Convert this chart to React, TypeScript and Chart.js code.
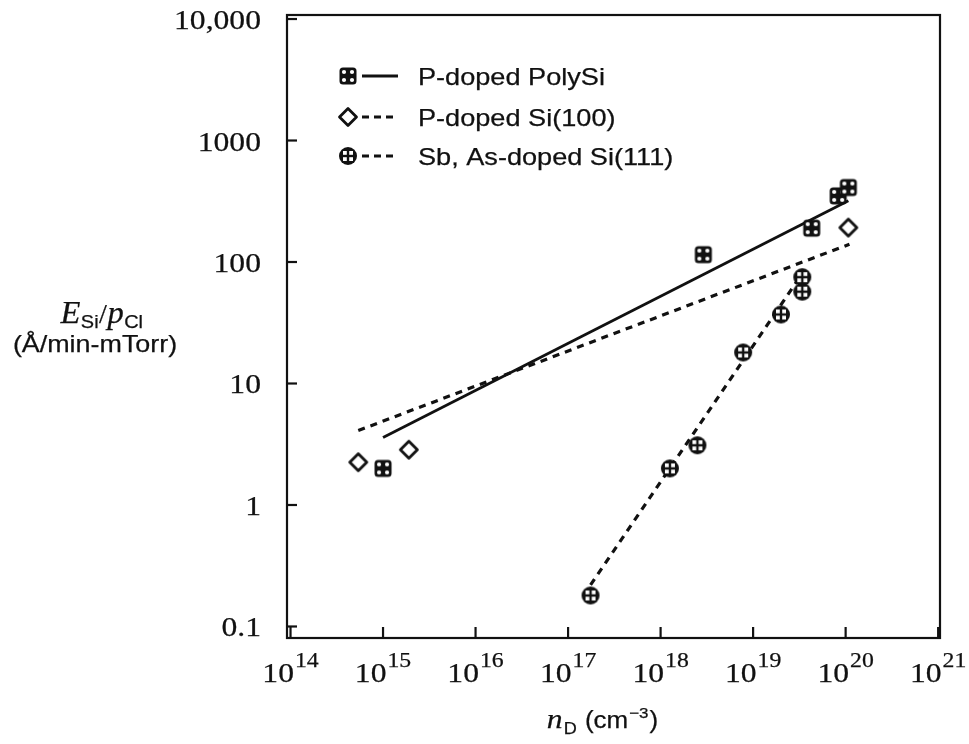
import React, { useEffect, useRef } from "react";
import { Chart, registerables } from "chart.js";

Chart.register(...registerables);

// ---- data ----
const polyX = [1.0e15, 2.9e18, 4.3e19, 8.3e19, 1.07e20];
const polyY = [2.0, 115, 190, 350, 410];
const si100X = [5.4e14, 1.9e15, 1.07e20];
const si100Y = [2.25, 2.85, 192];
const sbX = [1.75e17, 1.26e18, 2.5e18, 7.8e18, 2.0e19, 3.4e19, 3.4e19];
const sbY = [0.18, 2.0, 3.1, 18, 37, 57, 75];

const polyFitX = [1.0e15, 1.07e20];
const polyFitY = [3.6, 320];
const si100FitX = [5.4e14, 1.1e20];
const si100FitY = [4.1, 140];
const sbFitX = [1.75e17, 3.6e19];
const sbFitY = [0.22, 86];

const legendLabels = ["P-doped PolySi", "P-doped Si(100)", "Sb, As-doped Si(111)"];
const yTickValues = [0.1, 1, 10, 100, 1000, 10000];
const yTickLabels = ["0.1", "1", "10", "100", "1000", "10,000"];
const xTickExponents = [14, 15, 16, 17, 18, 19, 20, 21];

const SERIF = "'Liberation Serif', 'DejaVu Serif', serif";
const SANS = "'Liberation Sans', Arial, sans-serif";
const SX = 1.13;

function pts(xs: number[], ys: number[]) {
  return xs.map((x, i) => ({ x, y: ys[i] }));
}

function makePolyMarker() {
  const c = document.createElement("canvas");
  c.width = 20; c.height = 20;
  const g = c.getContext("2d")!;
  g.fillStyle = "#111";
  g.beginPath();
  (g as any).roundRect ? (g as any).roundRect(1.5, 1.5, 17, 17, 3.5) : g.rect(1.5, 1.5, 17, 17);
  g.fill();
  g.fillStyle = "#fff";
  [[-4, -4], [4, -4], [-4, 4], [4, 4]].forEach(([dx, dy]) => {
    g.beginPath();
    g.arc(10 + dx, 10 + dy, 2.1, 0, Math.PI * 2);
    g.fill();
  });
  return c;
}

function makeSbMarker() {
  const c = document.createElement("canvas");
  c.width = 20; c.height = 20;
  const g = c.getContext("2d")!;
  g.fillStyle = "#111";
  g.beginPath();
  g.arc(10, 10, 9, 0, Math.PI * 2);
  g.fill();
  g.fillStyle = "#fff";
  [[-1, -1], [1, -1], [-1, 1], [1, 1]].forEach(([sx, sy]) => {
    const x = sx < 0 ? 10 - 1.2 - 3.8 : 10 + 1.2;
    const y = sy < 0 ? 10 - 1.2 - 3.8 : 10 + 1.2;
    g.fillRect(x, y, 3.8, 3.8);
  });
  return c;
}

function makeDiamondMarker() {
  const c = document.createElement("canvas");
  c.width = 22; c.height = 22;
  const g = c.getContext("2d")!;
  g.strokeStyle = "#111";
  g.fillStyle = "#fff";
  g.lineWidth = 2.8;
  g.lineJoin = "round";
  g.beginPath();
  g.moveTo(11, 2.5);
  g.lineTo(19.5, 11);
  g.lineTo(11, 19.5);
  g.lineTo(2.5, 11);
  g.closePath();
  g.fill();
  g.stroke();
  return c;
}

function txt(ctx: CanvasRenderingContext2D, s: string, x: number, y: number, font: string, align = "left", sx = SX) {
  ctx.save();
  ctx.font = font;
  ctx.textBaseline = "alphabetic";
  const w = ctx.measureText(s).width * sx;
  const x0 = align === "left" ? x : align === "right" ? x - w : x - w / 2;
  ctx.translate(x0, y);
  ctx.scale(sx, 1);
  ctx.fillStyle = "#111";
  ctx.strokeStyle = "#111";
  ctx.lineWidth = 0.25;
  ctx.fillText(s, 0, 0);
  ctx.strokeText(s, 0, 0);
  ctx.restore();
  return w;
}

function measure(ctx: CanvasRenderingContext2D, s: string, font: string, sx = SX) {
  ctx.save();
  ctx.font = font;
  const w = ctx.measureText(s).width * sx;
  ctx.restore();
  return w;
}

export default function App() {
  const ref = useRef<HTMLCanvasElement | null>(null);

  useEffect(() => {
    document.body.style.margin = "0";
    const polyM = makePolyMarker();
    const sbM = makeSbMarker();
    const diaM = makeDiamondMarker();

    const deco = {
      id: "deco",
      afterDraw(chart: any) {
        const ctx: CanvasRenderingContext2D = chart.ctx;
        const a = chart.chartArea;
        const xs = chart.scales.x;
        const ys = chart.scales.y;
        ctx.save();
        // frame
        ctx.strokeStyle = "#111";
        ctx.lineWidth = 2.2;
        ctx.strokeRect(a.left, a.top, a.right - a.left, a.bottom - a.top);
        // y ticks + labels
        yTickValues.forEach((v, i) => {
          const py = ys.getPixelForValue(v);
          ctx.beginPath();
          ctx.moveTo(a.left, py);
          ctx.lineTo(a.left + 10, py);
          ctx.stroke();
          txt(ctx, yTickLabels[i], a.left - 26, py + 10, `28px ${SERIF}`, "right");
        });
        // x ticks + labels
        const f10 = `28px ${SERIF}`;
        const fe = `21px ${SERIF}`;
        xTickExponents.forEach((e) => {
          const px = xs.getPixelForValue(Math.pow(10, e));
          ctx.beginPath();
          ctx.moveTo(px, a.bottom);
          ctx.lineTo(px, a.bottom - 11);
          ctx.stroke();
          const w1 = measure(ctx, "10", f10);
          const w2 = measure(ctx, String(e), fe);
          const start = px - (w1 + 1 + w2) / 2;
          txt(ctx, "10", start, 682, f10);
          txt(ctx, String(e), start + w1 + 1, 667, fe);
        });
        // x title
        {
          const parts: [string, string, number][] = [
            ["n", `italic 28px ${SERIF}`, 0],
            ["D", `16px ${SANS}`, 6],
            [" (cm", `23px ${SANS}`, 0],
            ["\u22123", `15px ${SANS}`, -10],
            [")", `23px ${SANS}`, 0],
          ];
          const tw = parts.reduce((s, p) => s + measure(ctx, p[0], p[1]) + 1, 0);
          let x = 603 - tw / 2;
          parts.forEach((p) => {
            x += txt(ctx, p[0], x, 728 + p[2], p[1]) + 1;
          });
        }
        // y title
        {
          const parts: [string, string, number][] = [
            ["E", `italic 31px ${SERIF}`, 0],
            ["Si", `19px ${SANS}`, 5],
            ["/", `27px ${SERIF}`, 0],
            ["p", `italic 31px ${SERIF}`, 0],
            ["Cl", `19px ${SANS}`, 5],
          ];
          const tw = parts.reduce((s, p) => s + measure(ctx, p[0], p[1], 1.05) + 0.5, 0);
          let x = 102 - tw / 2;
          parts.forEach((p) => {
            x += txt(ctx, p[0], x, 323 + p[2], p[1], "left", 1.05) + 0.5;
          });
          txt(ctx, "(\u00C5/min-mTorr)", 95, 352, `24px ${SANS}`, "center", 1.12);
        }
        // legend
        const rows = [
          { m: polyM, dash: [] as number[], y: 76 },
          { m: diaM, dash: [7, 5], y: 117 },
          { m: sbM, dash: [7, 5], y: 156 },
        ];
        rows.forEach((r, i) => {
          ctx.drawImage(r.m, 348 - r.m.width / 2, r.y - r.m.height / 2);
          ctx.save();
          ctx.lineWidth = 2.8;
          ctx.setLineDash(r.dash);
          ctx.beginPath();
          ctx.moveTo(362, r.y);
          ctx.lineTo(398, r.y);
          ctx.stroke();
          ctx.restore();
          txt(ctx, legendLabels[i], 418, r.y + 8.5, `24px ${SANS}`, "left", 1.13);
        });
        ctx.restore();
      },
    };

    const chart = new Chart(ref.current!, {
      type: "scatter",
      data: {
        datasets: [
          { label: legendLabels[0], data: pts(polyX, polyY), pointStyle: polyM as any, pointRadius: 9, showLine: false },
          { label: legendLabels[1], data: pts(si100X, si100Y), pointStyle: diaM as any, pointRadius: 9, showLine: false },
          { label: legendLabels[2], data: pts(sbX, sbY), pointStyle: sbM as any, pointRadius: 9, showLine: false },
          { label: "fit1", data: pts(polyFitX, polyFitY), showLine: true, pointRadius: 0, borderColor: "#111", borderWidth: 2.8 },
          { label: "fit2", data: pts(si100FitX, si100FitY), showLine: true, pointRadius: 0, borderColor: "#111", borderWidth: 3.2, borderDash: [7, 6] },
          { label: "fit3", data: pts(sbFitX, sbFitY), showLine: true, pointRadius: 0, borderColor: "#111", borderWidth: 3.2, borderDash: [7, 6] },
        ] as any,
      },
      options: {
        responsive: false,
        animation: false,
        events: [],
        layout: { padding: { left: 287, right: 29, top: 15, bottom: 106 } },
        plugins: { legend: { display: false }, tooltip: { enabled: false } },
        scales: {
          x: {
            type: "logarithmic",
            min: Math.pow(10, 13.962),
            max: Math.pow(10, 21.02),
            ticks: { display: false },
            grid: { display: false },
            border: { display: false },
            afterFit: (s: any) => { s.height = 0; },
          },
          y: {
            type: "logarithmic",
            min: 0.0804,
            max: 10790,
            ticks: { display: false },
            grid: { display: false },
            border: { display: false },
            afterFit: (s: any) => { s.width = 0; },
          },
        },
      } as any,
      plugins: [deco],
    });
    return () => chart.destroy();
  }, []);

  return (
    <div style={{ width: 969, height: 744, background: "#fff" }}>
      <canvas ref={ref} width={969} height={744} />
    </div>
  );
}
